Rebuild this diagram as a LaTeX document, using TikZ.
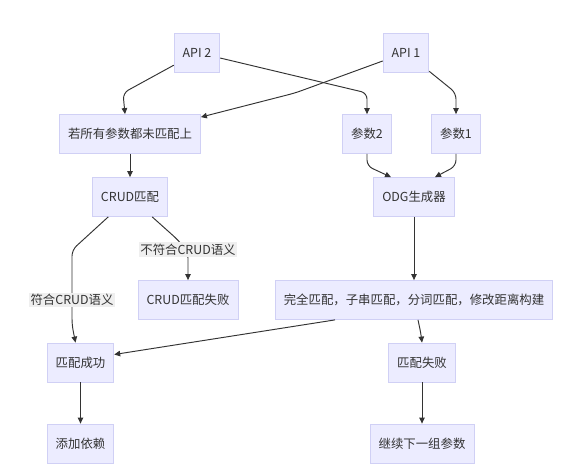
\documentclass[tikz,border=0pt]{standalone}
\usepackage{fontspec}
\setmainfont{Noto Sans CJK SC}
\usetikzlibrary{arrows.meta}
\definecolor{boxfill}{HTML}{ECECFF}
\definecolor{boxline}{HTML}{D0D0F5}
\definecolor{ink}{HTML}{333333}
\definecolor{lblfill}{HTML}{EFEFEF}
\begin{document}
\begin{tikzpicture}[x=1pt,y=-1pt,
  box/.style={draw=boxline,fill=boxfill,line width=0.8pt,minimum height=39pt,inner xsep=8.5pt,text=ink,font=\fontsize{12.4}{14}\selectfont},
  lbl/.style={fill=lblfill,inner sep=1.5pt,text=ink,font=\fontsize{12.4}{14}\selectfont},
  flow/.style={draw=ink,line width=0.95pt,rounded corners=6pt,-{Triangle[length=6pt,width=5.5pt]}}]
\useasboundingbox (0,0) rectangle (576,476);

\node [box] (api2) at (197,52.5) {API 2};
\node [box] (api1) at (406,52.5) {API 1};
\node [box] (cond) at (130,134) {若所有参数都未匹配上};
\node [box] (p2) at (367,134) {参数2};
\node [box] (p1) at (456,134) {参数1};
\node [box] (crud) at (130,197) {CRUD匹配};
\node [box] (odg) at (414,197) {ODG生成器};
\node [box] (crudfail) at (188,300) {CRUD匹配失败};
\node [box] (full) at (414,300) {完全匹配，子串匹配，分词匹配，修改距离构建};
\node [box] (ok) at (80.5,362.5) {匹配成功};
\node [box] (fail) at (422,362.5) {匹配失败};
\node [box] (dep) at (80.5,443.5) {添加依赖};
\node [box] (next) at (422,443.5) {继续下一组参数};

\draw [flow] (api2) -- (123,93) -- ([xshift=-5pt]cond.north);
\draw [flow] (api2) -- (367,93) -- (p2.north);
\draw [flow] (api1) -- (295,93) -- ([yshift=-3pt]cond.north east);
\draw [flow] (api1) -- (456,93) -- (p1.north);
\draw [flow] (cond) -- (crud);
\draw [flow] (p2) -- (367,166) -- ([xshift=-23pt]odg.north);
\draw [flow] (p1) -- (456,166) -- ([xshift=21pt]odg.north);
\draw [flow] (crud) -- (72,250) -- (72,325) -- ([xshift=-5pt]ok.north);
\draw [flow] (crud) -- (178,240) -- (188,252) -- (crudfail.north);
\draw [flow] (odg) -- (full);
\draw [flow] ([xshift=-79pt]full.south) -- ([yshift=8pt]ok.east);
\draw [flow] ([xshift=4pt]full.south) -- (421,334) -- (fail.north);
\draw [flow] (ok) -- (dep);
\draw [flow] (fail) -- (next);

\node [lbl] (yes) at (72,300) {符合CRUD语义};
\node [lbl] (no) at (188,249.5) {不符合CRUD语义};

\end{tikzpicture}
\end{document}
